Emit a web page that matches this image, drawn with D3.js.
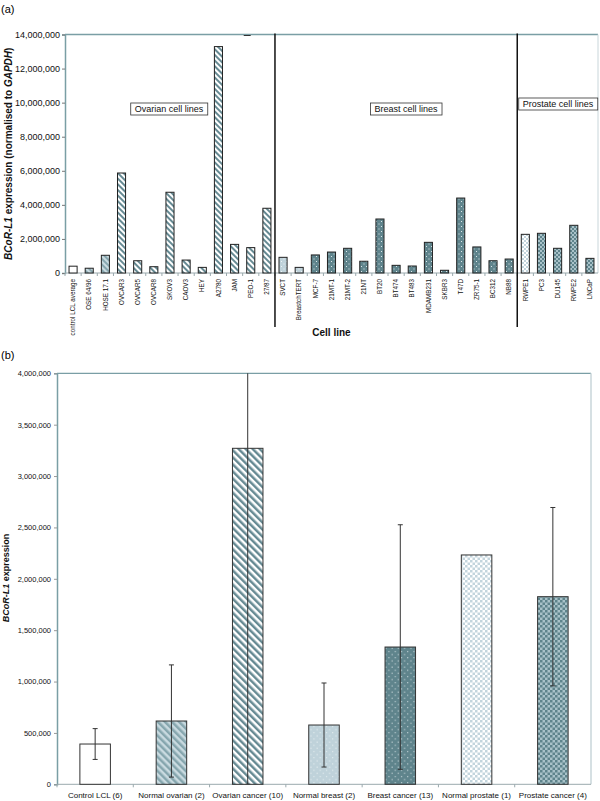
<!DOCTYPE html>
<html><head><meta charset="utf-8">
<script src="https://cdn.jsdelivr.net/npm/d3@7"></script>
<style>body{margin:0;background:#fff} text{font-family:"Liberation Sans",Arial,sans-serif}</style>
</head><body><svg id="c" width="600" height="801"></svg>
<script>
// ---------- DATA (panel a) ----------
const cellLines = ["control LCL average","OSE 64/96","HOSE 17.1","OVCAR3","OVCAR5","OVCAR8","SKOV3","CAOV3","HEY","A2780","JAM","PEO-1","27/87",
  "SVCT","BreastchTERT","MCF-7","21MT-1","21MT-2","21NT","BT20","BT474","BT483","MDAMB231","SKBR3","T47D","ZR75-1","BC312","NB88",
  "RWPE1","PC3","DU145","RWPE2","LNCaP"];
const cellValues = [400000,280000,1040000,5870000,720000,370000,4740000,760000,330000,13290000,1680000,1490000,3800000,
  920000,330000,1060000,1230000,1450000,690000,3170000,450000,410000,1800000,160000,4400000,1530000,720000,820000,
  2270000,2330000,1450000,2800000,860000];
const cellTypes = ["control","normOv","normOv","ovCa","ovCa","ovCa","ovCa","ovCa","ovCa","ovCa","ovCa","ovCa","ovCa",
  "normBr","normBr","brCa","brCa","brCa","brCa","brCa","brCa","brCa","brCa","brCa","brCa","brCa","brCa","brCa",
  "normPr","prCa","prCa","prCa","prCa"];
const sectionLabels = ["Ovarian cell lines","Breast cell lines","Prostate cell lines"];
const sectionStarts = ["control LCL average","SVCT","RWPE1"];
const yTicksA = [0,2000000,4000000,6000000,8000000,10000000,12000000,14000000];

// ---------- DATA (panel b) ----------
const groupNames = ["Control LCL (6)","Normal ovarian (2)","Ovarian cancer (10)","Normal breast (2)","Breast cancer (13)","Normal prostate (1)","Prostate cancer (4)"];
const groupMeans = [392000,616000,3270000,577000,1336000,2232000,1826000];
const groupErrors = [150000,546000,3350000,409000,1190000,0,868000];
const groupTypes = ["control","normOv","ovCa","normBr","brCa","normPr","prCa"];
const yTicksB = [0,500000,1000000,1500000,2000000,2500000,3000000,3500000,4000000];

const svg = d3.select("#c");
const defs = svg.append("defs");
const fmt = d3.format(",");

function stripes(id, c1, c2, size){
  const p = defs.append("pattern").attr("id",id).attr("patternUnits","userSpaceOnUse")
    .attr("width",size).attr("height",size).attr("patternTransform","rotate(-45)");
  p.append("rect").attr("width",size).attr("height",size).attr("fill",c2);
  p.append("rect").attr("width",size/2).attr("height",size).attr("fill",c1);
}
function dots(id, bg, dc, size){
  const p = defs.append("pattern").attr("id",id).attr("patternUnits","userSpaceOnUse")
    .attr("width",size).attr("height",size);
  p.append("rect").attr("width",size).attr("height",size).attr("fill",bg);
  p.append("rect").attr("x",1).attr("y",1).attr("width",1).attr("height",1).attr("fill",dc);
  p.append("rect").attr("x",1+size/2).attr("y",1+size/2).attr("width",1).attr("height",1).attr("fill",dc);
}
function checker(id, c1, c2, size){
  const p = defs.append("pattern").attr("id",id).attr("patternUnits","userSpaceOnUse")
    .attr("width",size).attr("height",size);
  p.append("rect").attr("width",size).attr("height",size).attr("fill",c2);
  p.append("rect").attr("width",size/2).attr("height",size/2).attr("fill",c1);
  p.append("rect").attr("x",size/2).attr("y",size/2).attr("width",size/2).attr("height",size/2).attr("fill",c1);
}
const teal = "#668a93", light = "#bfd2da";
["A","B"].forEach((s,k)=>{
  const f = k===0 ? 1 : 1.25;
  stripes("normOv"+s, "#86a6ae", "#c9dae0", 4*f);
  stripes("ovCa"+s, teal, "#ffffff", 4*f);
  dots("normBr"+s, light, "#eef4f6", 5*f);
  dots("brCa"+s, "#5f848c", "#dfe9ec", 5*f);
  checker("normPr"+s, "#c3d5dd", "#ffffff", 4*f);
  checker("prCa"+s, "#5f848c", "#a9c2c9", 4*f);
});
function fillFor(t, s){ return t==="control" ? "#ffffff" : `url(#${t}${s})`; }

// ================= PANEL A =================
const A = {left:65, right:598, top:34.5, bottom:273};
const xA = d3.scaleBand().domain(cellLines).range([A.left, A.right]).paddingInner(0.5).paddingOuter(0.25);
const yA = d3.scaleLinear().domain([0,14000000]).range([A.bottom, A.top]);
const gA = svg.append("g");

svg.append("text").attr("x",1).attr("y",13).attr("font-size",11).text("(a)");

// frame
gA.append("line").attr("x1",A.left).attr("x2",A.right).attr("y1",A.top).attr("y2",A.top).attr("stroke","#7a9ea5").attr("stroke-width",1.3);
gA.append("line").attr("x1",A.right).attr("x2",A.right).attr("y1",A.top).attr("y2",A.bottom).attr("stroke","#c9d6da").attr("stroke-width",1);

// y axis
const axA = gA.append("g").attr("transform",`translate(${A.left},0)`)
  .call(d3.axisLeft(yA).tickValues(yTicksA).tickFormat(fmt).tickSize(3).tickPadding(2));
axA.select(".domain").attr("stroke","#7a9ea5").attr("stroke-width",1.5);
axA.selectAll(".tick line").attr("stroke","#777");
axA.selectAll("text").attr("font-size",9).attr("fill","#111").style("font-family","Liberation Sans, Arial, sans-serif");

// x axis
gA.append("line").attr("x1",A.left).attr("x2",A.right).attr("y1",A.bottom).attr("y2",A.bottom).attr("stroke","#9aa9ad").attr("stroke-width",1);
gA.selectAll(".xtk").data(cellLines).enter().append("line")
  .attr("x1",d=>xA(d)-xA.step()*0.25).attr("x2",d=>xA(d)-xA.step()*0.25)
  .attr("y1",A.bottom).attr("y2",A.bottom+3).attr("stroke","#9aa9ad");
gA.selectAll(".xl").data(cellLines).enter().append("text")
  .attr("transform",d=>`translate(${xA(d)+xA.bandwidth()/2+2.2},${A.bottom+6}) rotate(-90)`)
  .attr("text-anchor","end").attr("font-size",6.3).attr("fill","#111").text(d=>d);

// bars
gA.selectAll(".bar").data(cellLines).enter().append("rect")
  .attr("x",d=>xA(d)).attr("width",xA.bandwidth())
  .attr("y",(d,i)=>yA(cellValues[i])).attr("height",(d,i)=>A.bottom-yA(cellValues[i]))
  .attr("fill",(d,i)=>fillFor(cellTypes[i],"A")).attr("stroke","#222").attr("stroke-width",1);

// separators
sectionStarts.slice(1).forEach(s=>{
  const xx = xA(s) - xA.step()*0.25;
  gA.append("line").attr("x1",xx).attr("x2",xx).attr("y1",A.top-1).attr("y2",327).attr("stroke","#111").attr("stroke-width",1.5);
});
// small dash near top
gA.append("line").attr("x1",xA("PEO-1")-3).attr("x2",xA("PEO-1")+4).attr("y1",A.top+1).attr("y2",A.top+1).attr("stroke","#333").attr("stroke-width",1);

// section label boxes
const boxPos = [{cx:169,cy:109},{cx:406,cy:109},{cx:558,cy:104}];
sectionLabels.forEach((lab,i)=>{
  const lg = gA.append("g");
  const r = lg.append("rect");
  const t = lg.append("text").attr("x",boxPos[i].cx).attr("y",boxPos[i].cy+3).attr("text-anchor","middle").attr("font-size",9).attr("fill","#111").text(lab);
  const bb = t.node().getBBox();
  r.attr("x",bb.x-4).attr("y",boxPos[i].cy-6).attr("width",bb.width+8).attr("height",12)
    .attr("fill","#fff").attr("stroke","#333").attr("stroke-width",0.8);
});

// axis titles
const tA = svg.append("text").attr("transform",`translate(12,${(A.top+A.bottom)/2}) rotate(-90)`)
  .attr("text-anchor","middle").attr("font-size",10).attr("font-weight","bold").attr("fill","#111");
tA.append("tspan").attr("font-style","italic").text("BCoR-L1");
tA.append("tspan").text(" expression (normalised to ");
tA.append("tspan").attr("font-style","italic").text("GAPDH");
tA.append("tspan").text(")");
svg.append("text").attr("x",(A.left+A.right)/2).attr("y",336).attr("text-anchor","middle")
  .attr("font-size",10).attr("font-weight","bold").attr("fill","#111").text("Cell line");

// ================= PANEL B =================
const B = {left:57, right:591, top:373.3, bottom:784.3};
const xB = d3.scaleBand().domain(groupNames).range([B.left,B.right]).paddingInner(0.6).paddingOuter(0.3);
const yB = d3.scaleLinear().domain([0,4000000]).range([B.bottom,B.top]);
const gB = svg.append("g");
svg.append("text").attr("x",1).attr("y",359).attr("font-size",11).text("(b)");

defs.append("clipPath").attr("id","clipB").append("rect")
  .attr("x",B.left).attr("y",B.top).attr("width",B.right-B.left).attr("height",B.bottom-B.top);

gB.append("line").attr("x1",B.left).attr("x2",B.right).attr("y1",B.top).attr("y2",B.top).attr("stroke","#7a9ea5").attr("stroke-width",1.3);
gB.append("line").attr("x1",B.right).attr("x2",B.right).attr("y1",B.top).attr("y2",B.bottom).attr("stroke","#c9d6da").attr("stroke-width",1.5);

const axB = gB.append("g").attr("transform",`translate(${B.left},0)`)
  .call(d3.axisLeft(yB).tickValues(yTicksB).tickFormat(fmt).tickSize(3).tickPadding(3));
axB.select(".domain").attr("stroke","#7a9ea5").attr("stroke-width",1.5);
axB.selectAll(".tick line").attr("stroke","#999");
axB.selectAll("text").attr("font-size",7.5).attr("fill","#111").style("font-family","Liberation Sans, Arial, sans-serif");

gB.append("line").attr("x1",B.left).attr("x2",B.right).attr("y1",B.bottom).attr("y2",B.bottom).attr("stroke","#9aa9ad").attr("stroke-width",1);
gB.selectAll(".xtk").data(groupNames).enter().append("line")
  .attr("x1",d=>xB(d)-xB.step()*0.3).attr("x2",d=>xB(d)-xB.step()*0.3)
  .attr("y1",B.bottom).attr("y2",B.bottom+3).attr("stroke","#9aa9ad");
gB.selectAll(".xl").data(groupNames).enter().append("text")
  .attr("x",d=>xB(d)+xB.bandwidth()/2).attr("y",B.bottom+14).attr("text-anchor","middle")
  .attr("font-size",8).attr("fill","#111").text(d=>d);

gB.selectAll(".bar").data(groupNames).enter().append("rect")
  .attr("x",d=>xB(d)).attr("width",xB.bandwidth())
  .attr("y",(d,i)=>yB(groupMeans[i])).attr("height",(d,i)=>B.bottom-yB(groupMeans[i]))
  .attr("fill",(d,i)=>fillFor(groupTypes[i],"B")).attr("stroke","#333").attr("stroke-width",1);

const eg = gB.append("g").attr("clip-path","url(#clipB)");
groupNames.forEach((d,i)=>{
  if(!groupErrors[i]) return;
  const cx = xB(d)+xB.bandwidth()/2;
  const hi = yB(groupMeans[i]+groupErrors[i]), lo = yB(Math.max(0,groupMeans[i]-groupErrors[i]));
  eg.append("line").attr("x1",cx).attr("x2",cx).attr("y1",hi).attr("y2",lo).attr("stroke","#333").attr("stroke-width",1);
  [hi,lo].forEach(yy=>eg.append("line").attr("x1",cx-2.5).attr("x2",cx+2.5).attr("y1",yy).attr("y2",yy).attr("stroke","#333").attr("stroke-width",1));
});

const tB = svg.append("text").attr("transform",`translate(9,578) rotate(-90)`)
  .attr("text-anchor","middle").attr("font-size",9).attr("font-weight","bold").attr("fill","#111");
tB.append("tspan").attr("font-style","italic").text("BCoR-L1");
tB.append("tspan").text(" expression");
</script></body></html>
